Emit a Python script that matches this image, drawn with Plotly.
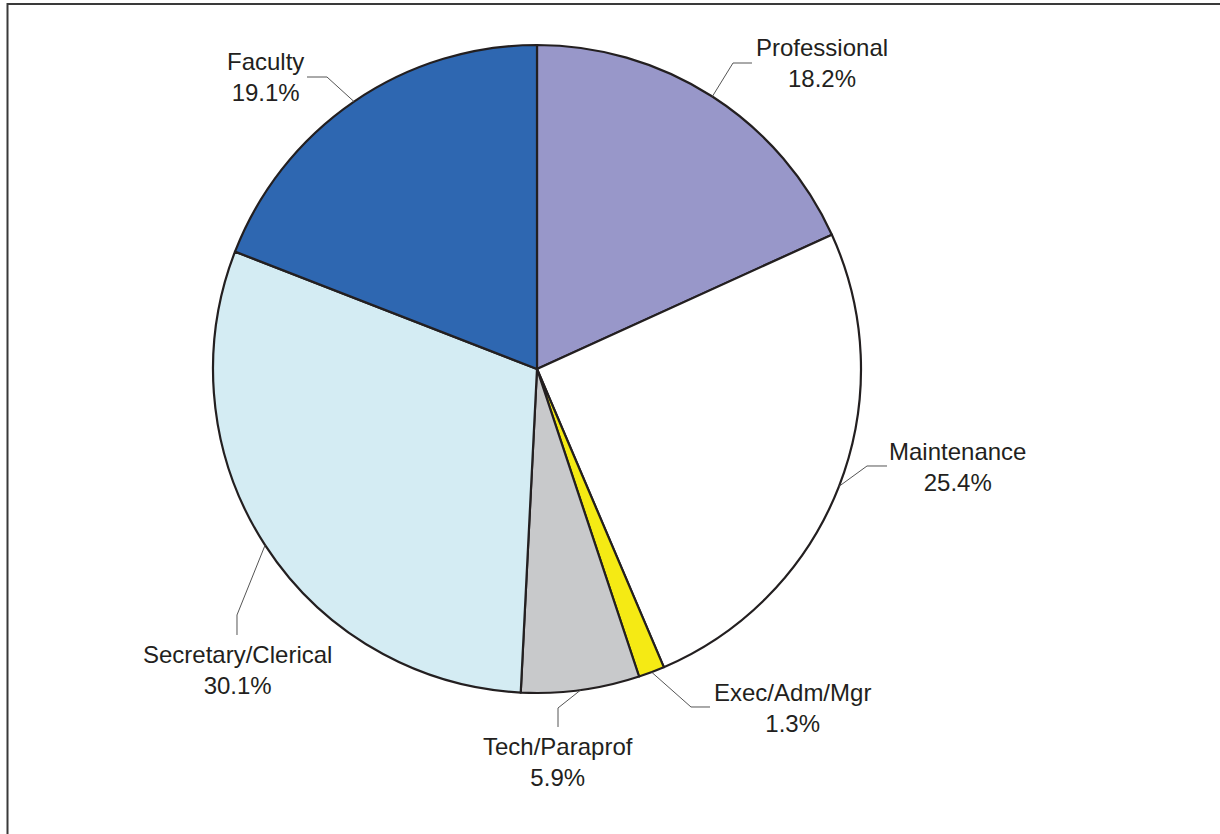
import math
import plotly.graph_objects as go

# ---- data ----
categories = ["Professional", "Maintenance", "Exec/Adm/Mgr", "Tech/Paraprof",
              "Secretary/Clerical", "Faculty"]
percents = [18.2, 25.4, 1.3, 5.9, 30.1, 19.1]
colors = ["#9897c9", "#ffffff", "#f5ea14", "#c8c9cb", "#d4ecf3", "#2e67b1"]

# ---- layout constants (pixels) ----
W, H = 1220, 834
CX, CY, R = 537, 369, 324

label_pos = {
    "Professional": (822, 63),
    "Maintenance": (957, 467),
    "Exec/Adm/Mgr": (792, 708),
    "Tech/Paraprof": (558, 762),
    "Secretary/Clerical": (237, 670),
    "Faculty": (265, 77),
}
leader_pts = {  # elbow, end (absolute px)
    "Professional": [(733, 63), (752, 63)],
    "Maintenance": [(867, 466), (887, 466)],
    "Exec/Adm/Mgr": [(691, 707), (710, 707)],
    "Tech/Paraprof": [(558, 708), (558, 727)],
    "Secretary/Clerical": [(237, 615), (237, 635)],
    "Faculty": [(327, 77), (307, 77)],
}


def px(x, y):
    return x / W, 1 - y / H


fig = go.Figure(go.Pie(
    labels=categories, values=percents, sort=False, direction="clockwise",
    rotation=0, textinfo="none", hoverinfo="label+percent",
    marker=dict(colors=colors, line=dict(color="#231f20", width=2.2)),
    domain=dict(x=[(CX - R) / W, (CX + R) / W],
                y=[1 - (CY + R) / H, 1 - (CY - R) / H]),
    showlegend=False,
))

shapes = []
annotations = []
total = sum(percents)
cum = 0.0
for cat, v in zip(categories, percents):
    mid = (cum + v / 2) / total * 2 * math.pi
    cum += v
    ex, ey = CX + R * math.sin(mid), CY - R * math.cos(mid)
    pts = [(ex, ey)] + leader_pts[cat]
    path = "M " + " L ".join(f"{px(x, y)[0]:.5f},{px(x, y)[1]:.5f}" for x, y in pts)
    shapes.append(dict(type="path", path=path, xref="paper", yref="paper",
                       line=dict(color="#555555", width=1)))
    lx, ly = px(*label_pos[cat])
    annotations.append(dict(
        x=lx, y=ly, xref="paper", yref="paper", xanchor="center", yanchor="middle",
        text=f"{cat}<br>{v:.1f}%", showarrow=False, align="center",
        font=dict(family="Liberation Sans, Arial, sans-serif", size=24, color="#231f20"),
    ))

# outer frame (left and top visible)
shapes.append(dict(type="rect", xref="paper", yref="paper",
                   x0=7.5 / W, y0=-0.05, x1=1.05, y1=1 - 4 / H,
                   line=dict(color="#3a3a3a", width=2), layer="below"))

fig.update_layout(
    width=W, height=H, margin=dict(l=0, r=0, t=0, b=0),
    paper_bgcolor="white", plot_bgcolor="white",
    shapes=shapes, annotations=annotations,
)

fig.write_html("out.html", config={"displayModeBar": False},
               post_script="document.body.style.margin='0';")
